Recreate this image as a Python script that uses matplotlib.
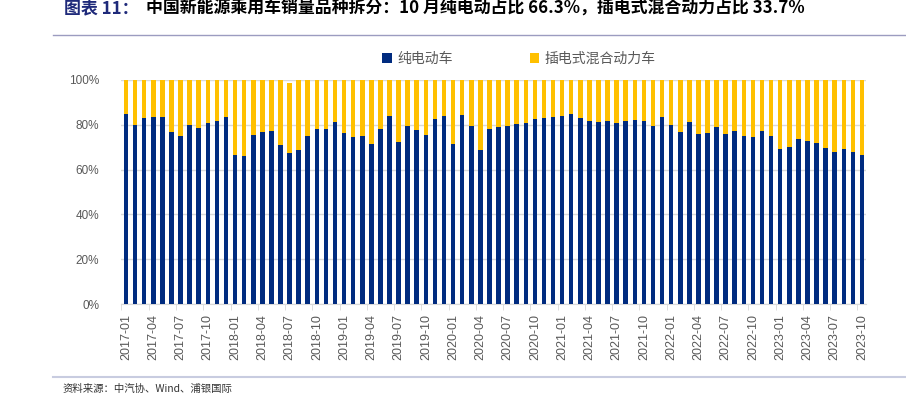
import matplotlib
matplotlib.use("Agg")
import matplotlib.pyplot as plt
import numpy as np

plt.rcParams['font.family'] = ['Noto Sans CJK SC', 'DejaVu Sans']

# 月份 2017-01 ... 2023-10
months = [f"{y}-{m:02d}" for y in range(2017, 2024) for m in range(1, 13)][:82]

# 纯电动车占比 (%)
bev = [84.8, 79.9, 83.1, 83.5, 83.5, 76.8, 75.0, 79.9, 78.5, 80.8, 81.9, 83.7,
       66.3, 66.0, 75.3, 77.0, 77.3, 71.2, 67.5, 68.8, 75.0, 78.0, 78.0, 81.3,
       76.4, 74.4, 75.0, 71.5, 78.2, 84.0, 72.2, 79.5, 77.6, 75.5, 82.5, 84.0,
       71.6, 84.4, 79.6, 68.9, 77.9, 78.8, 79.5, 80.4, 80.7, 82.6, 83.1, 83.5,
       84.0, 84.8, 83.1, 81.9, 81.4, 81.9, 80.7, 81.9, 82.2, 81.6, 79.5, 83.5,
       79.9, 76.7, 81.1, 75.8, 76.5, 78.9, 76.1, 77.3, 74.9, 74.7, 77.1, 75.0,
       69.2, 70.3, 73.7, 72.8, 71.9, 69.7, 67.9, 69.2, 67.9, 66.3]

# 插电式混合动力车占比 (%)
phev = [15.2, 20.1, 16.9, 16.5, 16.5, 23.2, 25.0, 20.1, 21.5, 19.2, 18.1, 16.3,
        33.7, 34.0, 24.7, 23.0, 22.7, 28.8, 31.0, 31.2, 25.0, 22.0, 22.0, 18.7,
        23.6, 25.6, 25.0, 28.5, 21.8, 16.0, 27.8, 20.5, 22.4, 24.5, 17.5, 16.0,
        28.4, 15.6, 20.4, 31.1, 22.1, 21.2, 20.5, 19.6, 19.3, 17.4, 16.9, 16.5,
        16.0, 15.2, 16.9, 18.1, 18.6, 18.1, 19.3, 18.1, 17.8, 18.4, 20.5, 16.5,
        20.1, 23.3, 18.9, 24.2, 23.5, 21.1, 23.9, 22.7, 25.1, 25.3, 22.9, 25.0,
        30.8, 29.7, 26.3, 27.2, 28.1, 30.3, 32.1, 30.8, 32.1, 33.7]

navy = "#002B7F"
yellow = "#FFC000"
grey = "#595959"

fig = plt.figure(figsize=(9.06, 3.96), dpi=100)
ax = fig.add_axes([0.1341, 0.2323, 0.8223, 0.5657])

x = np.arange(len(months))
ax.bar(x, bev, width=0.5, color=navy, label="纯电动车", zorder=3)
ax.bar(x, phev, width=0.5, bottom=bev, color=yellow, label="插电式混合动力车", zorder=3)

ax.set_xlim(-0.5, len(months) - 0.5)
ax.set_ylim(0, 100)
ax.set_yticks(np.arange(0, 101, 20))
ax.set_yticklabels([f"{v}%" for v in range(0, 101, 20)],
                   fontfamily="Liberation Sans", fontsize=8.5, color=grey)
ax.yaxis.grid(True, color="#D9D9D9", linewidth=1, zorder=0)
ax.tick_params(axis="y", length=0, pad=16)

ax.set_xticks(x[::3])
ax.set_xticklabels(months[::3], rotation=90, fontfamily="Liberation Sans",
                   fontsize=9, color=grey)
ax.set_xticks(np.arange(-0.5, len(months), 3), minor=True)
ax.tick_params(axis="x", which="major", length=0, pad=7)
ax.tick_params(axis="x", which="minor", length=4, color="#D9D9D9")

for s in ["top", "right", "left"]:
    ax.spines[s].set_visible(False)
ax.spines["bottom"].set_color("#D9D9D9")

leg = fig.legend(loc="center", bbox_to_anchor=(0.573, 0.852), ncol=2, frameon=False,
                 fontsize=10, handlelength=0.7, handleheight=0.7, handletextpad=0.4,
                 columnspacing=5.5)
for t in leg.get_texts():
    t.set_color(grey)

# 标题
fig.text(0.071, 0.978, "图表 11：", fontsize=12.2, fontweight="bold", color="#1F2A7A",
         va="center", ha="left")
fig.text(0.161, 0.978, "中国新能源乘用车销量品种拆分：10 月纯电动占比 66.3%，插电式混合动力占比 33.7%",
         fontsize=12.2, fontweight="bold", color="black", va="center", ha="left")
fig.add_artist(plt.Line2D([0.058, 1.0], [0.911, 0.911], color="#9C9CC0", linewidth=1))
fig.add_artist(plt.Line2D([0.058, 1.0], [0.048, 0.048], color="#C8CCE0", linewidth=1.5))
fig.text(0.069, 0.018, "资料来源：中汽协、Wind、浦银国际", fontsize=7.5, color="#333333",
         va="center", ha="left")

fig.savefig("out.png", dpi=100)
